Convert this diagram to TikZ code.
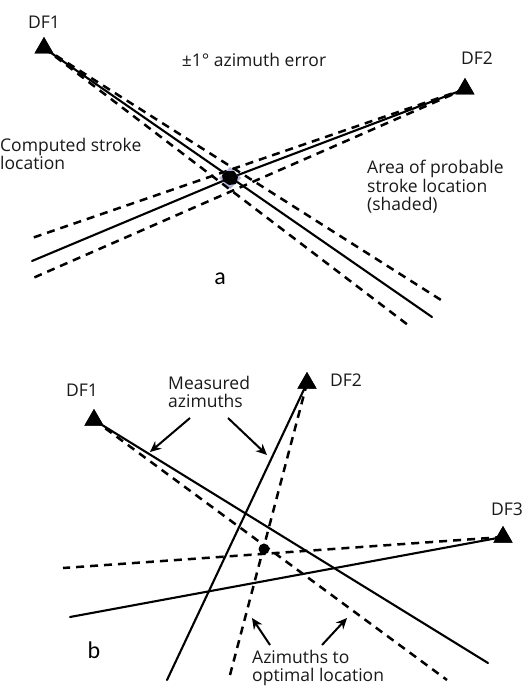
\documentclass[tikz,border=0pt]{standalone}
\usepackage{fontspec}
\setmainfont{Open Sans}
\newfontfamily\calib{Carlito}
\usetikzlibrary{arrows.meta,shapes.geometric}
\tikzset{
  sol/.style={line width=2.1pt, line cap=round},
  dsh/.style={line width=2.5pt, dash pattern=on 8pt off 6pt},
  tri/.style={regular polygon, regular polygon sides=3, fill=black, inner sep=0pt, minimum size=22pt},
  lbl/.style={font=\fontsize{17.5}{18.5}\selectfont, inner sep=0pt, text=black!90},
  sub/.style={font=\calib\fontsize{24}{26}\selectfont, inner sep=0pt},
  arr/.style={line width=2pt, -{Stealth[length=11pt,width=10pt]}},
}
\begin{document}
\begin{tikzpicture}[x=1pt,y=-1pt]
\useasboundingbox (0,0) rectangle (531,687);
% ---------- part a ----------
\coordinate (ac) at (230,178);
\coordinate (a1s) at (432,317);
\coordinate (a1u) at (441,300);
\coordinate (a1l) at (408,325);
\coordinate (a2s) at (32,261);
\coordinate (a2u) at (32,238);
\coordinate (a2l) at (33,278);
\node[tri] (a1) at (44,48) {};
\node[tri] (a2) at (465,89) {};
\draw[sol] (a1.center) -- (a1s);
\draw[dsh] (a1.center) -- (a1u);
\draw[dsh] (a1.center) -- (a1l);
\draw[sol] (a2.center) -- (ac) -- (a2s);
\draw[dsh] (a2.center) -- (a2u);
\draw[dsh] (a2.center) -- (a2l);
\fill[blue!30!gray, opacity=0.45] (ac) +(0,-11) -- +(11,0) -- +(0,11) -- +(-11,0) -- cycle;
\fill[black] (ac) +(-3,-7) -- +(4,-7) -- +(8,-1) -- +(6,6) -- +(-1,7) -- +(-7,3) -- +(-8,-3) -- cycle;
\node[tri] at (44,48) {};
\node[tri] at (465,89) {};
\node[lbl] (ta1) at (44,22) {DF1};
\node[lbl] (ta2) at (477,58) {DF2};
\node[lbl] (terr) at (254,60) {±1° azimuth error};
\node[lbl, anchor=north west, align=left] (tcomp) at (0,138) {Computed stroke\\location};
\node[lbl, anchor=north west, align=left] (tarea) at (367,160) {Area of probable\\stroke location\\(shaded)};
\node[sub] (la) at (220,279) {a};
% ---------- part b ----------
\coordinate (b1s) at (488,663);
\coordinate (b1d) at (447,680);
\coordinate (b2s) at (167,680);
\coordinate (b2d) at (230,675);
\coordinate (b3s) at (70,617);
\coordinate (b3d) at (63,568);
\node[tri] (b1) at (94,420) {};
\node[tri] (b2) at (307,383) {};
\node[tri] (b3) at (503,537) {};
\draw[sol] (b1.center) -- (b1s);
\draw[dsh] (b1.center) -- (b1d);
\draw[sol] (b2.center) -- (b2s);
\draw[dsh] (b2.center) -- (b2d);
\draw[sol] (b3.center) -- (b3s);
\draw[dsh] (b3.center) -- (b3d);
\node[tri] at (94,420) {};
\node[tri] at (307,383) {};
\node[tri] at (503,537) {};
\node[circle, fill=black, inner sep=0pt, minimum size=11pt] (opt) at (264,549) {};
\node[lbl] (tb1) at (82,390) {DF1};
\node[lbl] (tb2) at (346,380) {DF2};
\node[lbl] (tb3) at (507,509) {DF3};
\node[lbl, align=left, anchor=west] (tmeas) at (168,392) {Measured\\azimuths};
\node[lbl, align=left, anchor=south west] (topt) at (252,686) {Azimuths to\\optimal location};
\coordinate (m1s) at (190,418);
\coordinate (m1e) at (150,452);
\coordinate (m2s) at (228,418);
\coordinate (m2e) at (267,455);
\coordinate (o1s) at (270,645);
\coordinate (o1e) at (252,618);
\coordinate (o2s) at (322,645);
\coordinate (o2e) at (347,618);
\draw[arr] (m1s) -- (m1e);
\draw[arr] (m2s) -- (m2e);
\draw[arr] (o1s) -- (o1e);
\draw[arr] (o2s) -- (o2e);
\node[sub] (lb) at (94,650) {b};
\end{tikzpicture}
\end{document}
